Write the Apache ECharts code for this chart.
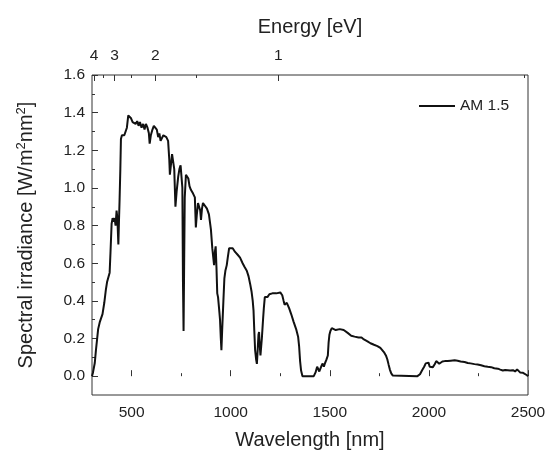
<!DOCTYPE html>
<html>
<head>
<meta charset="utf-8">
<script src="https://cdn.jsdelivr.net/npm/echarts@6/dist/echarts.min.js"></script>
<style>
html,body{margin:0;padding:0;background:#fff;}
#chart{width:550px;height:455px;}
</style>
</head>
<body>
<div id="chart"></div>
<script>
// Wavelength (nm) samples
const wavelength = [
300,305,314,320,326,331,340,353,362,370,376,384,389,393,399,404,409,414,419,424,428,433,436,439,443,446,451,456,463,470,476,483,
490,497,505,512,520,528,535,542,550,558,565,572,580,587,591,597,605,612,620,627,634,640,646,652,660,668,675,684,690,693,698,704,710,715,721,727,735,741,747,752,756,759,762,765,768,774,780,786,792,799,810,819,824,829,835,841,846,850,855,860,870,880,890,900,907,912,916,920,924,928,932,936,942,946,950,953,957,963,968,973,980,985,992,1000,1010,1022,1035,1047,1060,1070,1081,1090,1098,1105,1111,1115,1119,1123,1128,1132,1136,1140,1143,1146,1150,1153,1157,1160,1163,1167,1172,1177,1185,1195,1210,1230,1250,1260,1267,1272,1277,1283,1289,1295,1305,1317,1330,1340,1345,1350,1355,1362,1419,1428,1436,1441,1447,1452,1458,1464,1470,1476,1482,1490,1494,1498,1503,1510,1520,1530,1540,1550,1560,1570,1579,1590,1600,1608,1615,1625,1635,1645,1660,1672,1690,1705,1723,1740,1755,1765,1775,1783,1790,1797,1803,1810,1818,1825,1942,1955,1965,1976,1984,1992,1998,2004,2010,2020,2030,2037,2044,2052,2060,2068,2080,2094,2110,2130,2145,2160,2180,2196,2210,2230,2246,2263,2280,2297,2314,2330,2348,2360,2373,2385,2395,2410,2424,2435,2445,2452,2460,2466,2475,2485,2495,2500
];
// Spectral irradiance (W/m^2 nm) samples
const irradiance = [
0.0,0.02,0.07,0.14,0.2,0.25,0.29,0.33,0.39,0.46,0.50,0.51,0.55,0.65,0.81,0.84,0.82,0.84,0.80,0.88,0.84,0.70,0.82,0.93,1.10,1.26,1.28,1.29,1.28,1.28,1.32,1.385,
1.395,1.37,1.35,1.36,1.34,1.355,1.33,1.35,1.32,1.34,1.31,1.34,1.32,1.29,1.235,1.28,1.31,1.33,1.32,1.31,1.27,1.29,1.25,1.24,1.28,1.29,1.27,1.25,1.15,1.07,1.12,1.18,1.19,1.10,0.90,0.98,1.06,1.10,1.12,1.11,1.0,0.5,0.24,0.6,0.95,1.07,1.07,1.05,1.01,0.99,0.97,0.95,0.79,0.86,0.92,0.93,0.88,0.83,0.89,0.92,0.91,0.89,0.86,0.78,0.68,0.63,0.59,0.66,0.69,0.58,0.44,0.42,0.35,0.30,0.2,0.138,0.25,0.40,0.52,0.56,0.59,0.63,0.68,0.69,0.68,0.66,0.645,0.63,0.60,0.58,0.56,0.53,0.49,0.45,0.40,0.35,0.24,0.14,0.09,0.065,0.14,0.22,0.235,0.17,0.11,0.12,0.20,0.25,0.30,0.36,0.42,0.43,0.42,0.435,0.44,0.44,0.445,0.43,0.40,0.38,0.37,0.39,0.39,0.36,0.33,0.29,0.25,0.21,0.16,0.08,0.03,0.0,0.0,0.02,0.05,0.04,0.025,0.035,0.055,0.067,0.05,0.07,0.085,0.11,0.18,0.22,0.24,0.255,0.25,0.245,0.255,0.25,0.24,0.245,0.235,0.23,0.225,0.215,0.225,0.21,0.215,0.205,0.205,0.195,0.185,0.175,0.167,0.16,0.15,0.14,0.125,0.11,0.09,0.06,0.035,0.015,0.003,0.0,0.0,0.01,0.03,0.05,0.068,0.078,0.072,0.05,0.045,0.048,0.065,0.08,0.075,0.066,0.07,0.078,0.08,0.08,0.082,0.084,0.082,0.078,0.075,0.07,0.068,0.064,0.062,0.058,0.053,0.05,0.048,0.042,0.04,0.035,0.03,0.033,0.027,0.03,0.032,0.025,0.036,0.03,0.02,0.013,0.018,0.01,0.005,0.0
];
const xMajorTicks = [500, 1000, 1500, 2000, 2500];
const xMinorTicks = [750, 1250, 1750, 2250];
const yMajorTicks = [0.0, 0.2, 0.4, 0.6, 0.8, 1.0, 1.2, 1.4, 1.6];
const yMinorTicks = [0.1, 0.3, 0.5, 0.7, 0.9, 1.1, 1.3, 1.5];
const energyMajor = [4, 3, 2, 1];      // eV
const energyMinor = [3.5, 2.5, 1.5, 0.5]; // eV
const HC = 1240; // nm·eV

const FONT = 'Liberation Sans, Arial, sans-serif';
const TXT = '#222';
const X_MIN = 300, X_MAX = 2500, Y_MIN = -0.1, Y_MAX = 1.6;

const toNm = e => HC / e;
const data = wavelength.map((w, i) => [w, irradiance[i]]);

function baseX(extra) {
  return Object.assign({
    type: 'value', gridIndex: 0, min: X_MIN, max: X_MAX,
    splitLine: { show: false }, axisLine: { show: false }
  }, extra);
}
function baseY(extra) {
  return Object.assign({
    type: 'value', gridIndex: 0, min: Y_MIN, max: Y_MAX,
    splitLine: { show: false }, axisLine: { show: false }
  }, extra);
}

const chart = echarts.init(document.getElementById('chart'), null, { renderer: 'canvas' });
chart.setOption({
  animation: false,
  backgroundColor: '#fff',
  textStyle: { fontFamily: FONT },
  grid: { left: 92, right: 22, top: 75, bottom: 60, show: true, borderColor: '#333', borderWidth: 1, containLabel: false },
  legend: {
    left: 414, top: 93, itemWidth: 36, itemHeight: 2, itemGap: 6, icon: 'rect',
    textStyle: { fontFamily: FONT, fontSize: 15.5, color: TXT },
    data: ['AM 1.5']
  },
  xAxis: [
    baseX({
      position: 'bottom',
      name: 'Wavelength [nm]', nameLocation: 'middle', nameGap: 35,
      nameTextStyle: { fontFamily: FONT, fontSize: 20, color: TXT },
      axisTick: { inside: true, length: 6, customValues: xMajorTicks, lineStyle: { color: '#333' } },
      axisLabel: { customValues: xMajorTicks, margin: 10, fontFamily: FONT, fontSize: 15.5, color: TXT,
        formatter: v => String(v) }
    }),
    baseX({
      position: 'bottom',
      axisTick: { inside: true, length: 3, customValues: xMinorTicks, lineStyle: { color: '#333' } },
      axisLabel: { show: false }
    }),
    baseX({
      position: 'top',
      name: 'Energy [eV]', nameLocation: 'middle', nameGap: 38,
      nameTextStyle: { fontFamily: FONT, fontSize: 20, color: TXT },
      axisTick: { inside: true, length: 6, customValues: energyMajor.map(toNm), lineStyle: { color: '#333' } },
      axisLabel: { customValues: energyMajor.map(toNm), margin: 11, fontFamily: FONT, fontSize: 15.5, color: TXT,
        formatter: v => String(Math.round(HC / v)) }
    }),
    baseX({
      position: 'top',
      axisTick: { inside: true, length: 3, customValues: energyMinor.map(toNm), lineStyle: { color: '#333' } },
      axisLabel: { show: false }
    })
  ],
  yAxis: [
    baseY({
      position: 'left',
      name: 'Spectral irradiance [W/m{sup|2}nm{sup|2}]', nameLocation: 'middle', nameGap: 54,
      nameTextStyle: { fontFamily: FONT, fontSize: 20, color: TXT,
        rich: { sup: { fontFamily: FONT, fontSize: 13, color: TXT, padding: [0, 0, 10, 0] } } },
      axisTick: { inside: true, length: 6, customValues: yMajorTicks, lineStyle: { color: '#333' } },
      axisLabel: { customValues: yMajorTicks, margin: 7, fontFamily: FONT, fontSize: 15.5, color: TXT,
        formatter: v => v.toFixed(1) }
    }),
    baseY({
      position: 'left',
      axisTick: { inside: true, length: 3, customValues: yMinorTicks, lineStyle: { color: '#333' } },
      axisLabel: { show: false }
    })
  ],
  series: [{
    name: 'AM 1.5', type: 'line', xAxisIndex: 0, yAxisIndex: 0,
    data: data, symbol: 'none', showSymbol: false,
    lineStyle: { color: '#111', width: 2 }, itemStyle: { color: '#111' }
  }]
});
</script>
</body>
</html>
